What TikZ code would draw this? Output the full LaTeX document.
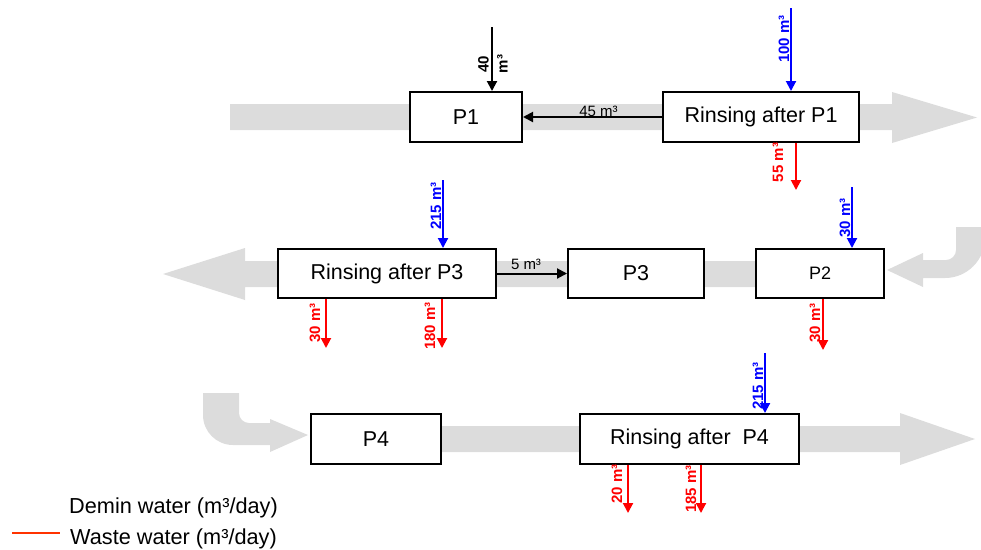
\documentclass[tikz,border=0pt]{standalone}
\usepackage{fontspec}
\setmainfont{Liberation Sans}
\usetikzlibrary{arrows.meta}
\definecolor{band}{HTML}{DCDCDC}
\definecolor{demin}{HTML}{0000FF}
\definecolor{waste}{HTML}{FF0000}
\definecolor{legendred}{HTML}{FF3300}
\begin{document}
\begin{tikzpicture}[x=1pt,y=-1pt,
  proc/.style={draw=black, line width=2pt, fill=white, font=\fontsize{21.5}{25}\selectfont, inner sep=0pt, minimum height=50pt},
  flow/.style={line width=2pt, -{Triangle[length=10pt,width=10pt]}},
  qty/.style={font=\bfseries\fontsize{15}{19}\selectfont, rotate=90, anchor=base, inner sep=0pt},
  hqty/.style={font=\fontsize{15}{19}\selectfont, anchor=base, inner sep=0pt},
  bandfill/.style={fill=band, draw=none},
  legtext/.style={font=\fontsize{21.7}{25}\selectfont, anchor=base west, inner sep=0pt}]
\useasboundingbox (0,0) rectangle (981,549);
\begin{scope}
\clip (0,0) rectangle (981,549);
% gray process bands
\fill[bandfill] (230,104) -- (892,104) -- (892,92) -- (977,117.5) -- (892,143) -- (892,130) -- (230,130) -- cycle;
\fill[bandfill] (245,261) -- (245,248) -- (163,274) -- (245,300) -- (245,287) -- (870,287) -- (870,261) -- cycle;
\fill[bandfill] (887,270) -- (923,253) -- (923,260) -- (946,260)
   .. controls (951.5,260) and (956,255.5) .. (956,250) -- (956,227) -- (985,227) -- (985,238)
   .. controls (985,260) and (967,278) .. (945,278) -- (923,278) -- (923,287) -- cycle;
\fill[bandfill] (380,426) -- (900,426) -- (900,413) -- (975,439) -- (900,465) -- (900,452) -- (380,452) -- cycle;
\fill[bandfill] (203,393) -- (239,393) -- (239,413)
   .. controls (239,418.5) and (243.5,423) .. (249,423) -- (270,423) -- (270,419) -- (308,435) -- (270,452) -- (270,445) -- (233,445)
   .. controls (216.4,445) and (203,431.6) .. (203,415) -- cycle;
\end{scope}
% process boxes
\node[proc, minimum width=112pt] (P1) at (466,117) {P1};
\node[proc, minimum width=196pt] (RP1) at (761,117) {Rinsing after P1};
\node[proc, minimum width=218pt, minimum height=49pt] (RP3) at (387,273.5) {Rinsing after P3};
\node[proc, minimum width=136pt, minimum height=49pt] (P3) at (636,273.5) {P3};
\node[proc, minimum width=128pt, minimum height=49pt, font=\fontsize{18}{22}\selectfont] (P2) at (820,273.5) {P2};
\node[proc, minimum width=130pt] (P4) at (376,439) {P4};
\node[proc, minimum width=219pt] (RP4) at (689.5,439) {Rinsing after\ \ P4};
% free ends
\coordinate (c40) at (492,27);
\coordinate (c100) at (791,8);
\coordinate (c55) at (796,190);
\coordinate (c215a) at (443,180);
\coordinate (c30a) at (326,348);
\coordinate (c180) at (442,348);
\coordinate (c30b) at (852,187);
\coordinate (c30c) at (823,350);
\coordinate (c215b) at (765,353);
\coordinate (c20) at (628,513);
\coordinate (c185) at (701,513);
% flows
\draw[flow] (c40) -- (c40 |- P1.north);
\draw[flow] (RP1.west) -- (P1.east);
\draw[flow, demin] (c100) -- (c100 |- RP1.north);
\draw[flow, waste] (c55 |- RP1.south) -- (c55);
\draw[flow] (RP3.east) -- (P3.west);
\draw[flow, demin] (c215a) -- (c215a |- RP3.north);
\draw[flow, waste] (c30a |- RP3.south) -- (c30a);
\draw[flow, waste] (c180 |- RP3.south) -- (c180);
\draw[flow, demin] (c30b) -- (c30b |- P2.north);
\draw[flow, waste] (c30c |- P2.south) -- (c30c);
\draw[flow, demin] (c215b) -- (c215b |- RP4.north);
\draw[flow, waste] (c20 |- RP4.south) -- (c20);
\draw[flow, waste] (c185 |- RP4.south) -- (c185);
% quantities
\node[qty, align=center, anchor=center] (l40) at (493,64) {40\\m³};
\node[hqty] (l45) at (598.5,116) {45 m³};
\node[qty, text=demin] (l100) at (789,39) {100 m³};
\node[qty, text=waste] (l55) at (783,162.5) {55 m³};
\node[hqty] (l5) at (526,269) {5 m³};
\node[qty, text=demin] (l215a) at (441,206) {215 m³};
\node[qty, text=waste] (l30a) at (320,323) {30 m³};
\node[qty, text=waste] (l180) at (435,326) {180 m³};
\node[qty, text=demin] (l30b) at (850,218) {30 m³};
\node[qty, text=waste] (l30c) at (820,323) {30 m³};
\node[qty, text=demin] (l215b) at (763,386) {215 m³};
\node[qty, text=waste] (l20) at (622,484) {20 m³};
\node[qty, text=waste] (l185) at (696,489) {185 m³};
% legend
\node[legtext] (leg1) at (69,513) {Demin water (m³/day)};
\coordinate (lg1) at (12,533);
\coordinate (lg2) at (60,533);
\draw[legendred, line width=2pt] (lg1) -- (lg2);
\node[legtext] (leg2) at (70,544) {Waste water (m³/day)};
\end{tikzpicture}
\end{document}
